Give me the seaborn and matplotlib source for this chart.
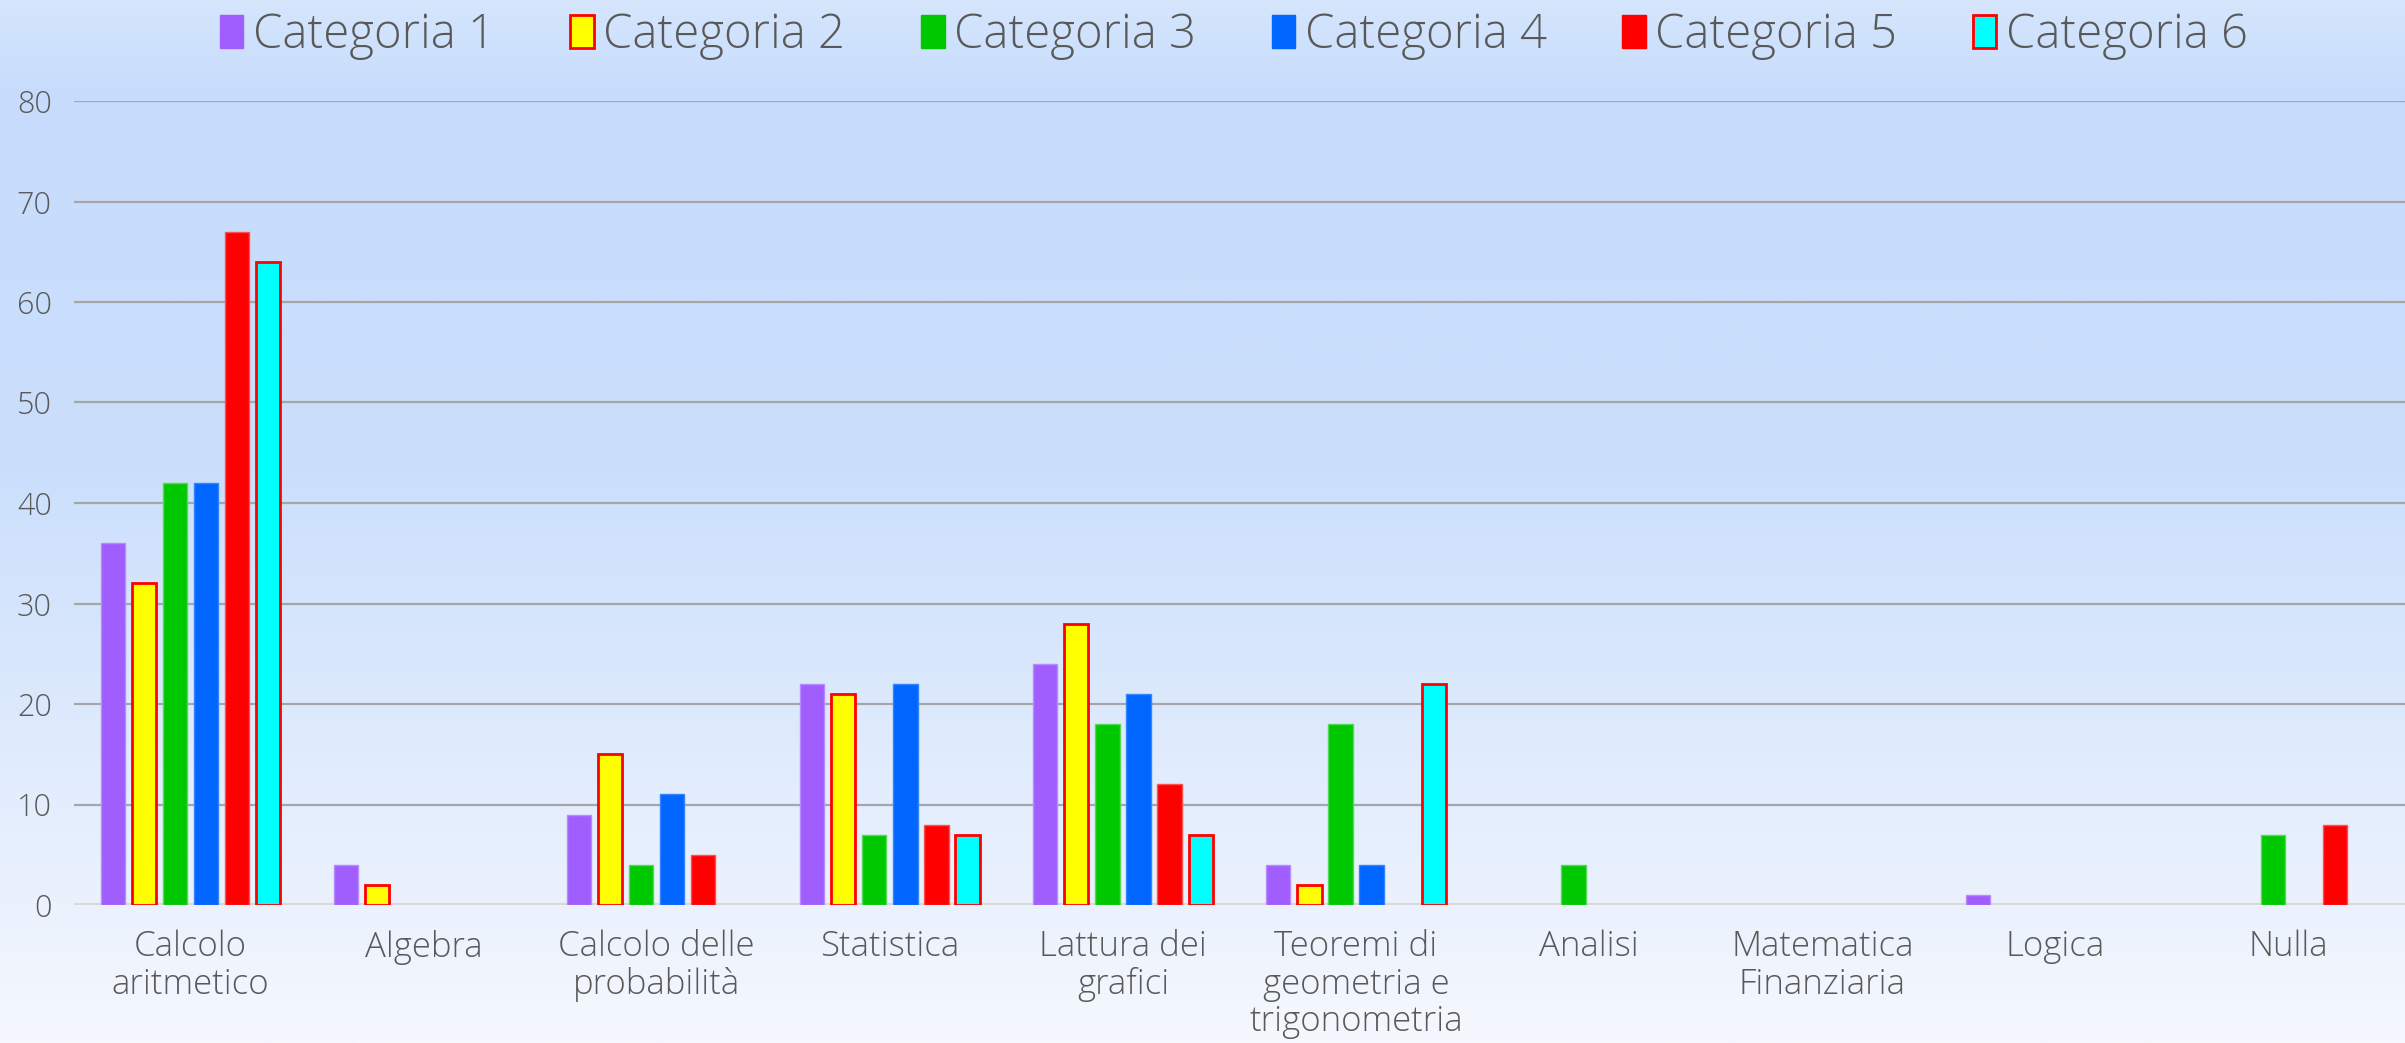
import numpy as np
import pandas as pd
import matplotlib
matplotlib.use("Agg")
import matplotlib.pyplot as plt
from matplotlib.colors import LinearSegmentedColormap
from matplotlib.patches import Patch
import seaborn as sns

categories = ["Calcolo\naritmetico", "Algebra", "Calcolo delle\nprobabilità", "Statistica",
              "Lattura dei\ngrafici", "Teoremi di\ngeometria e\ntrigonometria", "Analisi",
              "Matematica\nFinanziaria", "Logica", "Nulla"]
series_names = ["Categoria 1", "Categoria 2", "Categoria 3", "Categoria 4", "Categoria 5", "Categoria 6"]
cat1 = [36, 4, 9, 22, 24, 4, 0, 0, 1, 0]
cat2 = [32, 2, 15, 21, 28, 2, 0, 0, 0, 0]
cat3 = [42, 0, 4, 7, 18, 18, 4, 0, 0, 7]
cat4 = [42, 0, 11, 22, 21, 4, 0, 0, 0, 0]
cat5 = [67, 0, 5, 8, 12, 0, 0, 0, 0, 8]
cat6 = [64, 0, 0, 7, 7, 22, 0, 0, 0, 0]
y_ticks = [0, 10, 20, 30, 40, 50, 60, 70, 80]

fills = ["#A05EFF", "#FFFF00", "#00C800", "#0066FF", "#FF0000", "#00FFFF"]
edges = ["#B88AFF", "#FF0000", "#55D855", "#3385FF", "#FF5050", "#FF0000"]
edge_lw = [1.0, 2.0, 1.0, 1.0, 1.0, 2.0]

values = [cat1, cat2, cat3, cat4, cat5, cat6]
rows = []
for s, vals in zip(series_names, values):
    for c, v in zip(categories, vals):
        rows.append({"cat": c, "series": s, "val": v})
df = pd.DataFrame(rows)

sns.set_theme(style="white")
font = ["Open Sans", "DejaVu Sans"]
plt.rcParams["font.family"] = font
plt.rcParams["font.weight"] = "light"
text_color = "#595959"

W, H = 2405, 1043
fig = plt.figure(figsize=(W / 100, H / 100), dpi=100)

# background gradient
bg = fig.add_axes([0, 0, 1, 1], zorder=-10)
grad_cmap = LinearSegmentedColormap.from_list(
    "bg", [(0.0, "#D5E6FD"), (0.09, "#C7DCFC"), (0.45, "#CBDFFC"), (1.0, "#F5F8FE")])
g = np.linspace(0, 1, 512).reshape(-1, 1)
bg.imshow(g, aspect="auto", cmap=grad_cmap, extent=[0, 1, 1, 0])
bg.set_axis_off()

left = 74 / W
bottom = 1 - 905 / H
top = 1 - 101 / H
ax = fig.add_axes([left, bottom, 1 - left, top - bottom])
ax.patch.set_alpha(0)

sns.barplot(data=df, x="cat", y="val", hue="series", hue_order=series_names,
            palette=fills, width=0.8, gap=0.22, ax=ax, legend=False, saturation=1)

for i, cont in enumerate(ax.containers):
    for p in cont.patches:
        p.set_edgecolor(edges[i])
        p.set_linewidth(edge_lw[i])
        p.set_zorder(3)
        if p.get_height() == 0:
            p.set_visible(False)

ax.set_ylim(0, 80)
ax.set_xlim(-0.5, len(categories) - 0.5)
ax.set_yticks(y_ticks)
ax.yaxis.grid(True, color="#A6A6A6", linewidth=1.6, zorder=0)
ax.set_axisbelow(True)
ax.axhline(0, color="#D9D9D9", linewidth=3, zorder=2)
for sp in ax.spines.values():
    sp.set_visible(False)
ax.set_xlabel("")
ax.set_ylabel("")
ax.tick_params(axis="y", length=0, pad=16, labelsize=22, labelcolor=text_color)
ax.tick_params(axis="x", length=0, pad=18, labelsize=25, labelcolor=text_color)
for lab in ax.get_xticklabels():
    lab.set_linespacing(1.1)
    lab.set_verticalalignment("top")

handles = [Patch(facecolor=fills[i], edgecolor=edges[i] if edge_lw[i] > 1 else fills[i],
                 linewidth=edge_lw[i], label=series_names[i]) for i in range(6)]
fig.legend(handles=handles, loc="upper center", bbox_to_anchor=(0.513, 1.03), ncol=6,
           frameon=False, fontsize=34, labelcolor=text_color, handlelength=0.5,
           handleheight=0.7, handletextpad=0.2, columnspacing=1.6)

fig.savefig("out.png", dpi=100)
